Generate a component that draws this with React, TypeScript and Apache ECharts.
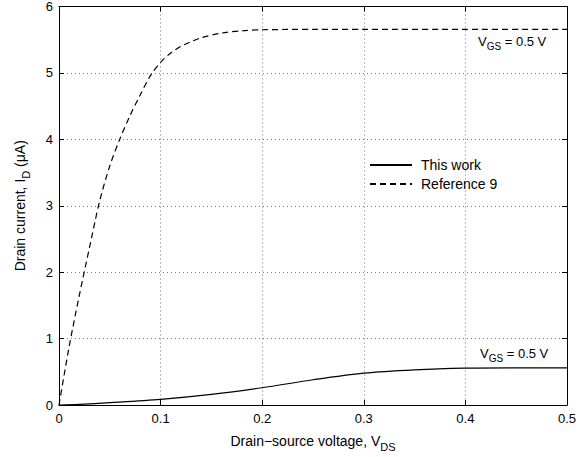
import React, { useEffect, useRef } from "react";
import * as echarts from "echarts";

const refX = [0, 0.01, 0.02, 0.03, 0.04, 0.05, 0.06, 0.07, 0.08, 0.09, 0.1, 0.11, 0.12, 0.13, 0.14, 0.16, 0.18, 0.2, 0.25, 0.3, 0.4, 0.5];
const refY = [0, 0.88, 1.65, 2.37, 3.07, 3.6, 4.01, 4.36, 4.67, 4.96, 5.16, 5.3, 5.4, 5.47, 5.53, 5.6, 5.635, 5.65, 5.655, 5.655, 5.655, 5.655];
const workX = [0, 0.02, 0.05, 0.1, 0.15, 0.2, 0.25, 0.3, 0.35, 0.4, 0.45, 0.5];
const workY = [0, 0.01, 0.035, 0.085, 0.16, 0.26, 0.38, 0.48, 0.53, 0.555, 0.56, 0.56];
const xTicks = [0, 0.1, 0.2, 0.3, 0.4, 0.5];
const yTicks = [0, 1, 2, 3, 4, 5, 6];

const FONT = "Liberation Sans, Arial, sans-serif";

export default function App() {
  const ref = useRef<HTMLDivElement>(null);
  useEffect(() => {
    if (!ref.current) return;
    const chart = echarts.init(ref.current, undefined, { renderer: "svg" });
    const dotted = { show: true, lineStyle: { color: "#777", type: [1, 3] as any, width: 1 } };
    const sub = {
      base: { fontSize: 14, fontFamily: FONT, color: "#000" },
      sub: { fontSize: 11, fontFamily: FONT, color: "#000", padding: [11, 0, 0, 0] },
    };
    const annRich = {
      base: { fontSize: 13, fontFamily: FONT, color: "#000" },
      sub: { fontSize: 10, fontFamily: FONT, color: "#000", padding: [9, 0, 0, 0] },
    };
    chart.setOption({
      animation: false,
      backgroundColor: "#fff",
      grid: { left: 59, right: 21, top: 6, bottom: 48.5, containLabel: false },
      legend: {
        orient: "vertical",
        left: 364,
        top: 153,
        itemWidth: 42,
        itemHeight: 14,
        itemGap: 5,
        itemStyle: { opacity: 0 },
        textStyle: { fontSize: 14, fontFamily: FONT, color: "#000", padding: [0, 0, 0, 4] },
        data: ["This work", "Reference 9"],
      },
      xAxis: [
        {
          type: "value",
          min: 0,
          max: 0.5,
          interval: 0.1,
          position: "bottom",
          axisLine: { show: true, onZero: false, lineStyle: { color: "#000", width: 1 } },
          axisTick: { show: true, inside: true, length: 5, lineStyle: { color: "#000" } },
          axisLabel: {
            fontSize: 13, fontFamily: FONT, color: "#000", margin: 7,
            formatter: (v: number) => {
              const t = xTicks.find((x) => Math.abs(x - v) < 1e-9);
              return t === undefined ? "" : String(t);
            },
          },
          splitLine: dotted,
          name: "{base|Drain\u2212source voltage, V}{sub|DS}",
          nameLocation: "middle",
          nameGap: 25,
          nameTextStyle: { rich: sub },
        },
        {
          type: "value",
          min: 0,
          max: 0.5,
          interval: 0.1,
          position: "top",
          axisLine: { show: true, onZero: false, lineStyle: { color: "#000", width: 1 } },
          axisTick: { show: true, inside: true, length: 5, lineStyle: { color: "#000" } },
          axisLabel: { show: false },
          splitLine: { show: false },
        },
      ],
      yAxis: [
        {
          type: "value",
          min: 0,
          max: 6,
          interval: 1,
          position: "left",
          axisLine: { show: true, onZero: false, lineStyle: { color: "#000", width: 1 } },
          axisTick: { show: true, inside: true, length: 5, lineStyle: { color: "#000" } },
          axisLabel: {
            fontSize: 13, fontFamily: FONT, color: "#000", margin: 6,
            formatter: (v: number) => {
              const t = yTicks.find((x) => Math.abs(x - v) < 1e-9);
              return t === undefined ? "" : String(t);
            },
          },
          splitLine: dotted,
          name: "{base|Drain current, I}{sub|D}{base| (\u03bcA)}",
          nameLocation: "middle",
          nameGap: 28,
          nameTextStyle: { rich: sub },
        },
        {
          type: "value",
          min: 0,
          max: 6,
          interval: 1,
          position: "right",
          axisLine: { show: true, onZero: false, lineStyle: { color: "#000", width: 1 } },
          axisTick: { show: true, inside: true, length: 5, lineStyle: { color: "#000" } },
          axisLabel: { show: false },
          splitLine: { show: false },
        },
      ],
      series: [
        {
          name: "This work",
          type: "line",
          smooth: 0.3,
          symbol: "none",
          lineStyle: { color: "#000", width: 1.2, type: "solid" },
          itemStyle: { color: "#000" },
          data: workX.map((x, i) => [x, workY[i]]),
          z: 3,
        },
        {
          name: "Reference 9",
          type: "line",
          smooth: 0.3,
          symbol: "none",
          lineStyle: { color: "#000", width: 1.2, type: [6, 4] },
          itemStyle: { color: "#000" },
          data: refX.map((x, i) => [x, refY[i]]),
          z: 3,
        },
      ],
      graphic: [
        {
          type: "text",
          left: 478,
          top: 35,
          style: { text: "{base|V}{sub|GS}{base| = 0.5 V}", rich: annRich },
        },
        {
          type: "text",
          left: 480,
          top: 347,
          style: { text: "{base|V}{sub|GS}{base| = 0.5 V}", rich: annRich },
        },
      ],
    });
    return () => chart.dispose();
  }, []);
  return <div ref={ref} style={{ width: 588, height: 457, position: "absolute", left: 0, top: 0 }} />;
}
